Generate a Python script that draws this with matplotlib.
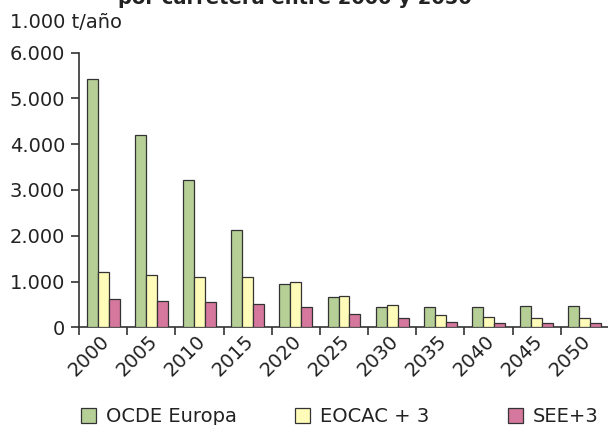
import matplotlib
matplotlib.use("Agg")
import matplotlib.pyplot as plt
import numpy as np
from matplotlib.patches import Patch

years = ["2000", "2005", "2010", "2015", "2020", "2025", "2030", "2035", "2040", "2045", "2050"]
ocde_europa = [5430, 4200, 3220, 2120, 955, 655, 437, 437, 437, 459, 459]
eocac_3 = [1200, 1142, 1092, 1092, 982, 683, 487, 269, 218, 197, 197]
see_3 = [624, 568, 546, 515, 437, 297, 197, 109, 87, 87, 87]
series_names = ["OCDE Europa", "EOCAC + 3", "SEE+3"]
colors = ["#b5cf96", "#fffbb8", "#d6789e"]

plt.rcParams['font.family'] = ['DejaVu Sans']

fig = plt.figure(figsize=(6.08, 4.25), dpi=100)
ax = fig.add_axes([79/608, 1-327.3/425, 530/608, (327.3-52.5)/425])

x = np.arange(len(years))
w = 0.228
for i, (vals, c) in enumerate(zip([ocde_europa, eocac_3, see_3], colors)):
    ax.bar(x + (i-1)*w, vals, width=w, color=c, edgecolor="#333333", linewidth=0.9, zorder=3)

ax.set_xlim(-0.5, len(years)-0.5)
ax.set_ylim(0, 6000)
ax.set_yticks(np.arange(0, 6001, 1000))
ax.set_yticklabels(["0", "1.000", "2.000", "3.000", "4.000", "5.000", "6.000"], fontsize=14, color="#222222")
# label anchors sit slightly right of each group centre, as in the reference
ax.set_xticks(x + 0.2)
ax.set_xticklabels(years, rotation=45, ha='right', va='top', rotation_mode='default', fontsize=14, color="#222222")
ax.set_xticks(np.arange(-0.5, len(years), 1.0), minor=True)
ax.tick_params(axis='x', which='major', length=0, pad=3)
ax.tick_params(axis='x', which='minor', length=6, width=1.2, color="#333333", direction='out')
ax.tick_params(axis='y', length=6, width=1.2, color="#333333", direction='out', pad=4)
for s in ['top', 'right']:
    ax.spines[s].set_visible(False)
for s in ['left', 'bottom']:
    ax.spines[s].set_color("#333333")
    ax.spines[s].set_linewidth(1.2)

fig.text(10/608, 1-22/425, "1.000 t/año", fontsize=14, ha='left', va='center', color="#222222")
fig.text(295/608, 1-4/425, "por carretera entre 2000 y 2050", fontsize=14, fontweight='bold',
         ha='center', va='baseline', color="#222222")

legend_x = [81/608, 295/608, 508/608]
for name, c, lx in zip(series_names, colors, legend_x):
    h = Patch(facecolor=c, edgecolor="#333333", linewidth=0.9)
    fig.legend([h], [name], loc='center left', bbox_to_anchor=(lx, 1-417/425), frameon=False,
               fontsize=14, handlelength=0.78, handleheight=0.78, handletextpad=0.5,
               borderpad=0, borderaxespad=0, labelcolor="#222222")

fig.savefig("out.png", dpi=100)
